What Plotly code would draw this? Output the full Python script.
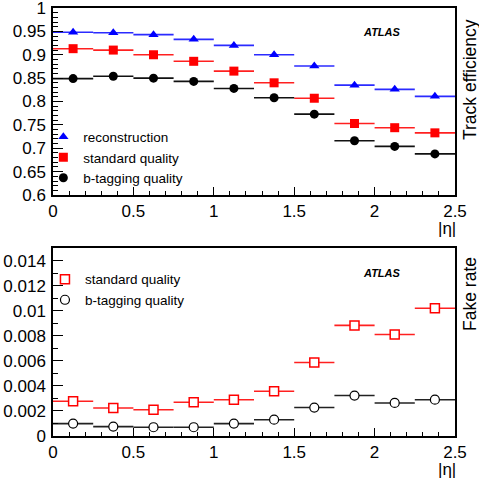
import plotly.graph_objects as go

# ---- data ----
eta_centers = [0.125, 0.375, 0.625, 0.875, 1.125, 1.375, 1.625, 1.875, 2.125, 2.375]
eta_half_width = [0.125] * 10
reco_eff = [0.948, 0.947, 0.943, 0.933, 0.920, 0.900, 0.876, 0.835, 0.826, 0.811]
std_eff = [0.913, 0.910, 0.900, 0.886, 0.865, 0.840, 0.807, 0.753, 0.744, 0.733]
btag_eff = [0.849, 0.854, 0.850, 0.843, 0.828, 0.808, 0.773, 0.716, 0.704, 0.688]
std_fake = [0.00278, 0.00224, 0.00210, 0.00270, 0.00290, 0.00357, 0.00587, 0.00883, 0.00810, 0.01020]
btag_fake = [0.00099, 0.00075, 0.00070, 0.00070, 0.00099, 0.00130, 0.00227, 0.00323, 0.00264, 0.00290]
eta_ticks = [0, 0.5, 1, 1.5, 2, 2.5]
eta_tick_text = ["0", "0.5", "1", "1.5", "2", "2.5"]
eff_ticks = [0.6, 0.65, 0.7, 0.75, 0.8, 0.85, 0.9, 0.95, 1.0]
eff_tick_text = ["0.6", "0.65", "0.7", "0.75", "0.8", "0.85", "0.9", "0.95", "1"]
fake_ticks = [0, 0.002, 0.004, 0.006, 0.008, 0.01, 0.012, 0.014]
fake_tick_text = ["0", "0.002", "0.004", "0.006", "0.008", "0.01", "0.012", "0.014"]

FONT = "Liberation Sans, Arial, sans-serif"

fig = go.Figure()

def add(y, name, sym, color, line_color, size, xa, ya, legend, mline=None):
    marker = dict(symbol=sym, size=size, color=color)
    if mline:
        marker["line"] = mline
    fig.add_trace(go.Scatter(
        x=eta_centers, y=y, name=name, mode="markers",
        marker=marker,
        error_x=dict(type="data", array=eta_half_width, visible=True,
                     color=line_color, thickness=1.6, width=0),
        xaxis=xa, yaxis=ya, legend=legend))

add(reco_eff, "reconstruction", "triangle-up", "#0000ff", "#2b2bff", 9, "x", "y", "legend")
add(std_eff, "standard quality", "square", "#ff0000", "#ff2020", 9, "x", "y", "legend")
add(btag_eff, "b-tagging quality", "circle", "#000000", "#111111", 9, "x", "y", "legend")
add(std_fake, "standard quality", "square", "#ffffff", "#ff2020", 9, "x2", "y2", "legend2",
    mline=dict(color="#ff0000", width=1.5))
add(btag_fake, "b-tagging quality", "circle", "#ffffff", "#222222", 9, "x2", "y2", "legend2",
    mline=dict(color="#000000", width=1.2))

xcommon = dict(range=[0, 2.5], tickmode="array", tickvals=eta_ticks, ticktext=eta_tick_text,
               ticks="inside", ticklen=8, tickwidth=1.2,
               tickcolor="black", showline=True, linecolor="black", linewidth=1.5, mirror=True,
               showgrid=False, zeroline=False, tickfont=dict(family=FONT, size=17, color="black"),
               minor=dict(dtick=0.1, tick0=0, ticks="inside", ticklen=4, tickcolor="black",
                          showgrid=False),
               ticklabelstandoff=0, automargin=False, ticklabeloverflow="allow")
ycommon = dict(ticks="inside", ticklen=10, tickwidth=1.2, tickcolor="black", showline=True,
               linecolor="black", linewidth=1.5, mirror=True, showgrid=False, zeroline=False,
               tickfont=dict(family=FONT, size=17, color="black"), ticklabelstandoff=2,
               automargin=False, tickmode="array", ticklabeloverflow="allow")

fig.update_layout(
    width=479, height=483,
    margin=dict(l=53, r=24, t=8, b=47, autoexpand=False),
    paper_bgcolor="white", plot_bgcolor="white",
    font=dict(family=FONT, color="black"),
    xaxis=dict(domain=[0, 1], anchor="y", **xcommon),
    yaxis=dict(domain=[0.563, 1], anchor="x", range=[0.6, 1.0],
               tickvals=eff_ticks, ticktext=eff_tick_text,
               minor=dict(dtick=0.01, tick0=0.6, ticks="inside", ticklen=5, tickcolor="black",
                          showgrid=False),
               **ycommon),
    xaxis2=dict(domain=[0, 1], anchor="y2", **xcommon),
    yaxis2=dict(domain=[0, 0.439], anchor="x2", range=[0, 0.015],
                tickvals=fake_ticks, ticktext=fake_tick_text,
                minor=dict(dtick=0.001, tick0=0, ticks="inside", ticklen=5, tickcolor="black",
                           showgrid=False),
                **ycommon),
    legend=dict(x=-0.024, y=0.735, xanchor="left", yanchor="top", bgcolor="rgba(0,0,0,0)",
                font=dict(family=FONT, size=13.5, color="black"), itemwidth=30,
                tracegroupgap=0),
    legend2=dict(x=-0.02, y=0.402, xanchor="left", yanchor="top", bgcolor="rgba(0,0,0,0)",
                 font=dict(family=FONT, size=13.5, color="black"), itemwidth=30,
                 tracegroupgap=0),
    showlegend=True,
)

ann = []
ann.append(dict(text="Track efficiency", x=1.0373, y=0.834, xref="paper", yref="paper",
                xanchor="center", yanchor="middle",
                textangle=-90, showarrow=False, font=dict(family=FONT, size=17.5, color="black")))
ann.append(dict(text="Fake rate", x=1.0373, y=0.332, xref="paper", yref="paper",
                xanchor="center", yanchor="middle",
                textangle=-90, showarrow=False, font=dict(family=FONT, size=17.5, color="black")))
for yy in (0.9446, 0.381):
    ann.append(dict(text="<b><i>ATLAS</i></b>", x=0.818, y=yy, xref="paper", yref="paper",
                    xanchor="center", yanchor="middle",
                    showarrow=False, font=dict(family=FONT, size=11, color="black")))
for yy in (0.484, -0.079):
    ann.append(dict(text="|η|", x=0.980, y=yy, xref="paper", yref="paper",
                    xanchor="center", yanchor="middle",
                    showarrow=False, font=dict(family=FONT, size=17, color="black")))
fig.update_layout(annotations=ann)

fig.write_html("out.html", config={"displayModeBar": False},
               post_script="document.body.style.margin='0';document.body.style.overflow='hidden';")
